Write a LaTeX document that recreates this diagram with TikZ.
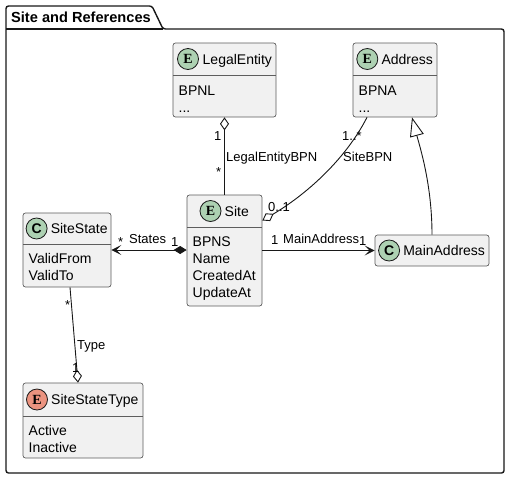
\documentclass[tikz,border=0pt]{standalone}
\usepackage{fontspec}
\setmainfont{Liberation Sans}
\newfontfamily\serifb{Liberation Serif}
\usetikzlibrary{arrows.meta,calc}
\definecolor{bd}{HTML}{181818}
\definecolor{boxfill}{HTML}{F1F1F1}
\definecolor{cgreen}{HTML}{ADD1B2}
\definecolor{cenum}{HTML}{EB937F}
\tikzset{
  pkg/.style={draw=bd, line width=1.4pt, fill=white, rounded corners=2.5pt},
  cls/.style={draw=bd!70, fill=boxfill, rounded corners=2.5pt, line width=0.7pt, inner sep=0pt},
  divl/.style={draw=bd!70, line width=0.7pt},
  circ/.style={circle, draw=bd, line width=0.8pt, minimum size=21pt, inner sep=0pt, font=\serifb\bfseries\fontsize{14}{14}\selectfont},
  nm/.style={anchor=base west, inner sep=0pt, font=\fontsize{14}{16}\selectfont},
  mem/.style={anchor=base west, inner sep=0pt, font=\fontsize{14}{16}\selectfont},
  lbl/.style={anchor=base west, inner sep=0pt, font=\fontsize{13}{15}\selectfont},
  lblr/.style={anchor=base east, inner sep=0pt, font=\fontsize{13}{15}\selectfont},
  conn/.style={draw=bd, line width=0.9pt},
  odia/.tip={Diamond[open, length=13pt, width=9pt, line width=0.9pt]},
  fdia/.tip={Diamond[length=13pt, width=8pt]},
  varr/.tip={Stealth[length=10pt, width=10pt, inset=5pt]},
  otri/.tip={Triangle[open, length=19pt, width=14pt, fill=white, line width=0.9pt]}
}
\begin{document}
\begin{tikzpicture}[x=1pt, y=-1pt]
\useasboundingbox (0,0) rectangle (511,480);
% package
\draw[pkg] (6,29) -- (6,6) -- (152,6) -- (163,29) -- (504,29) -- (504,473) -- (6,473) -- cycle;
\draw[draw=bd, line width=1.4pt] (6,29) -- (163,29);
\node[anchor=base west, inner sep=0pt, font=\bfseries\fontsize{14.6}{16}\selectfont] (title) at (11,22) {Site and References};

% LegalEntity
\node[cls, minimum width=103pt, minimum height=74pt] (le) at (224.5,80) {};
\draw[divl] (173,75) -- (276,75);
\node[circ, fill=cgreen] (leI) at (188,59) {E};
\node[nm] (leT) at (202.5,64) {LegalEntity};
\node[mem] (leM1) at (178.5,95) {BPNL};
\node[mem] (leM2) at (178.5,112) {...};

% Address
\node[cls, minimum width=84pt, minimum height=74pt] (ad) at (395,80) {};
\draw[divl] (353,75) -- (437,75);
\node[circ, fill=cgreen] (adI) at (367.3,59) {E};
\node[nm] (adT) at (381.3,64) {Address};
\node[mem] (adM1) at (358.5,95) {BPNA};
\node[mem] (adM2) at (358.5,112) {...};

% Site
\node[cls, minimum width=75pt, minimum height=111pt] (si) at (224.5,250.5) {};
\draw[divl] (187,227) -- (262,227);
\node[circ, fill=cgreen] (siI) at (210.5,211) {E};
\node[nm] (siT) at (224.5,216) {Site};
\node[mem] (siM1) at (192.5,246) {BPNS};
\node[mem] (siM2) at (192.5,263) {Name};
\node[mem] (siM3) at (192.5,280) {CreatedAt};
\node[mem] (siM4) at (192.5,297) {UpdateAt};

% SiteState
\node[cls, minimum width=88pt, minimum height=74pt] (ss) at (67,250) {};
\draw[divl] (23,244) -- (111,244);
\node[circ, fill=cgreen, font=\bfseries\fontsize{14}{14}\selectfont] (ssI) at (36.6,228.5) {C};
\node[nm] (ssT) at (50.6,233.5) {SiteState};
\node[mem] (ssM1) at (28.5,263) {ValidFrom};
\node[mem] (ssM2) at (28.5,280) {ValidTo};

% MainAddress
\node[cls, minimum width=114pt, minimum height=31pt] (ma) at (432,250.5) {};
\node[circ, fill=cgreen, font=\bfseries\fontsize{14}{14}\selectfont] (maI) at (389.1,250.5) {C};
\node[nm] (maT) at (403.1,255.5) {MainAddress};

% SiteStateType
\node[cls, minimum width=120pt, minimum height=75pt] (sst) at (83,420.5) {};
\draw[divl] (23,416) -- (143,416);
\node[circ, fill=cenum] (sstI) at (37,399.5) {E};
\node[nm] (sstT) at (51,404.5) {SiteStateType};
\node[mem] (sstM1) at (28.5,435) {Active};
\node[mem] (sstM2) at (28.5,452) {Inactive};

% connectors
\draw[conn, {odia}-] (le.south) -- (si.north);
\node[lblr] (l1a) at (221.5,140) {1};
\node[lblr] (l1b) at (221.5,176) {*};
\node[lbl] (l1c) at (226,161.5) {LegalEntityBPN};

\draw[conn, -{odia}] ([xshift=-28pt]ad.south) .. controls +(-22,43) and +(43,-25.5) .. ([yshift=30pt]si.east);
\node[lbl] (l2a) at (342,140) {1..*};
\node[lbl] (l2b) at (343,161.5) {SiteBPN};
\node[lbl] (l2c) at (268,211.5) {0..1};

\draw[conn, {varr}-{fdia}] (ss.east) -- (ss.east -| si.west);
\node[lbl] (l3a) at (118,246) {*};
\node[lbl] (l3b) at (129,243) {States};
\node[lbl] (l3c) at (171,246) {1};

\draw[conn, -{varr}] (si.east) -- (ma.west);
\node[lbl] (l4a) at (271,244.5) {1};
\node[lbl] (l4b) at (283,243) {MainAddress};
\node[lbl] (l4c) at (359,245) {1};

\draw[conn, -{otri}] (ma.north) .. controls +(0,-50) and +(8,30) .. ([xshift=17pt]ad.south);

\draw[conn, -{odia}] ([xshift=3pt]ss.south) -- ([xshift=-5pt]sst.north);
\node[lbl] (l5a) at (65,309) {*};
\node[lbl] (l5b) at (77,349) {Type};
\node[lbl] (l5c) at (72,372) {1};
\end{tikzpicture}
\end{document}
